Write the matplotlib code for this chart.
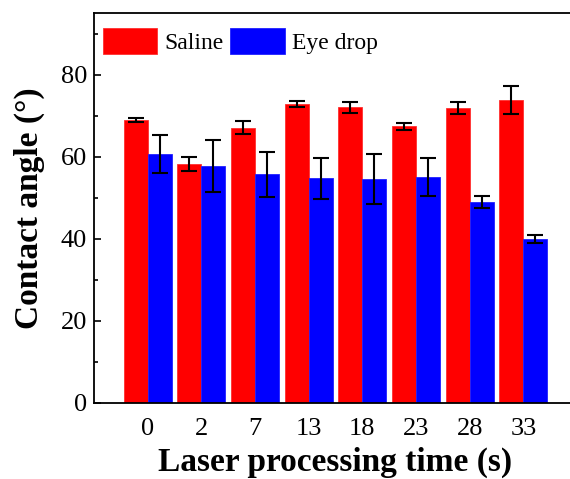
import matplotlib.pyplot as plt
import numpy as np

plt.rcParams['font.family'] = ['Liberation Serif', 'DejaVu Serif']

# data
times = ['0', '2', '7', '13', '18', '23', '28', '33']
saline = [68.9, 58.2, 67.1, 72.8, 72.0, 67.4, 71.8, 73.8]
saline_err = [0.5, 1.6, 1.5, 0.8, 1.25, 0.8, 1.4, 3.3]
eyedrop = [60.6, 57.8, 55.7, 54.7, 54.6, 55.0, 48.9, 39.9]
eyedrop_err = [4.65, 6.35, 5.5, 5.0, 6.1, 4.65, 1.45, 0.95]

x = np.arange(len(times))
w = 0.45

fig = plt.figure(figsize=(5.7, 4.79), dpi=100)
ax = fig.add_axes([0.1649, 0.1587, 0.8474, 0.8142])

err_kw = dict(ecolor='black', elinewidth=1.5, capsize=5.5, capthick=1.5)
ax.bar(x - w / 2, saline, w, yerr=saline_err, color='#ff0000',
       edgecolor='#ff3030', linewidth=0.6, label='Saline', error_kw=err_kw)
ax.bar(x + w / 2, eyedrop, w, yerr=eyedrop_err, color='#0000ff',
       edgecolor='#2020ff', linewidth=0.6, label='Eye drop', error_kw=err_kw)

ax.set_xlim(-1, 8)
ax.set_ylim(0, 95)
ax.set_xticks(x)
ax.set_xticklabels(times)
ax.set_yticks([0, 20, 40, 60, 80])
ax.set_yticks([10, 30, 50, 70, 90], minor=True)

ax.tick_params(axis='y', which='major', direction='in', length=5, width=1.2,
               labelsize=19, pad=5)
ax.tick_params(axis='y', which='minor', direction='in', length=3, width=1.2)
ax.tick_params(axis='x', length=0, labelsize=19, pad=11)

for s in ax.spines.values():
    s.set_linewidth(1.3)
ax.spines['right'].set_visible(False)

ax.set_xlabel('Laser processing time (s)', fontsize=24, fontweight='bold',
              labelpad=5)
ax.set_ylabel('Contact angle (°)', fontsize=24, fontweight='bold',
              labelpad=11)

ax.legend(loc='upper left', bbox_to_anchor=(0.018, 0.962), ncol=2,
          frameon=False, fontsize=17, handlelength=2.3, handleheight=1.3,
          handletextpad=0.3, columnspacing=0.3, borderpad=0,
          borderaxespad=0)

fig.savefig('out.png', dpi=100)
